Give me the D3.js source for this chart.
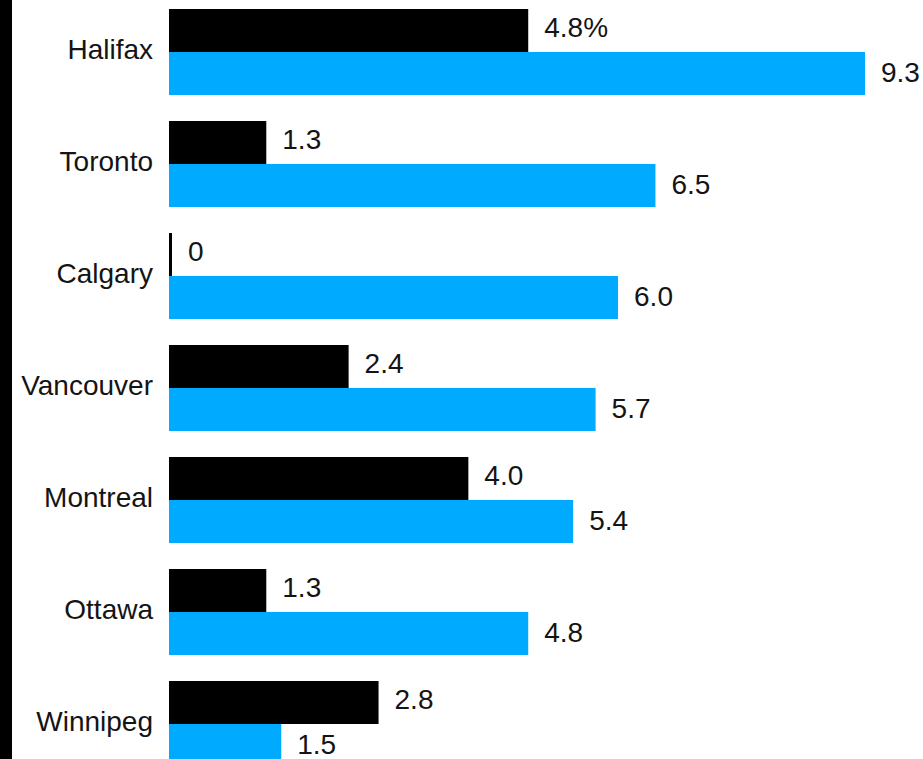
<!DOCTYPE html>
<html>
<head>
<meta charset="utf-8">
<script src="https://cdn.jsdelivr.net/npm/d3@7"></script>
<style>
  html, body { margin: 0; padding: 0; background: #fff; }
  svg { display: block; }
  text { font-family: "Liberation Sans", Arial, sans-serif; }
</style>
</head>
<body>
<svg id="chart" width="923" height="759"></svg>
<script>
// Cities, top to bottom
const cities = ["Halifax", "Toronto", "Calgary", "Vancouver", "Montreal", "Ottawa", "Winnipeg"];
// First series (black bars), percent
const seriesA = [4.8, 1.3, 0, 2.4, 4.0, 1.3, 2.8];
// Second series (blue bars), percent
const seriesB = [9.3, 6.5, 6.0, 5.7, 5.4, 4.8, 1.5];
// Value label text
const labelsA = ["4.8%", "1.3", "0", "2.4", "4.0", "1.3", "2.8"];
const labelsB = ["9.3", "6.5", "6.0", "5.7", "5.4", "4.8", "1.5"];

const seriesKeys = ["a", "b"];
const colors = { a: "#000000", b: "#00aaff" };
const labelShift = { a: 6.5, b: 8 };

const svg = d3.select("#chart");
const W = 923, H = 759;
const fontSize = 28;
const textColor = "#141414";

svg.append("rect").attr("width", W).attr("height", H).attr("fill", "#fff");
// dark strip along the left edge
svg.append("rect").attr("x", 0).attr("y", 0).attr("width", 12).attr("height", H).attr("fill", "#000");

const x = d3.scaleLinear().domain([0, 9.3]).range([169, 865]);

const y = d3.scaleBand()
  .domain(cities)
  .range([-4, 780])
  .paddingInner(26 / 112)
  .paddingOuter(13 / 112);

const ySub = d3.scaleBand().domain(seriesKeys).range([0, y.bandwidth()]);

const rows = cities.map((c, i) => ({
  city: c,
  values: [
    { key: "a", v: seriesA[i], label: labelsA[i] },
    { key: "b", v: seriesB[i], label: labelsB[i] }
  ]
}));

const g = svg.append("g");

const row = g.selectAll("g.row").data(rows).join("g")
  .attr("class", "row")
  .attr("transform", d => `translate(0,${y(d.city)})`);

// city names, baseline just below the split between the two bars
row.append("text")
  .attr("x", 153)
  .attr("y", y.bandwidth() / 2 + 6.5)
  .attr("text-anchor", "end")
  .attr("font-size", fontSize)
  .attr("fill", textColor)
  .text(d => d.city);

row.selectAll("rect.bar").data(d => d.values).join("rect")
  .attr("class", "bar")
  .attr("x", x(0))
  .attr("y", d => ySub(d.key))
  .attr("width", d => Math.max(3, x(d.v) - x(0)))
  .attr("height", ySub.bandwidth())
  .attr("fill", d => colors[d.key]);

row.selectAll("text.val").data(d => d.values).join("text")
  .attr("class", "val")
  .attr("x", d => Math.max(x(0) + 3, x(d.v)) + 16)
  .attr("y", d => ySub(d.key) + ySub.bandwidth() / 2 + labelShift[d.key])
  .attr("font-size", fontSize)
  .attr("fill", textColor)
  .text(d => d.label);
</script>
</body>
</html>
